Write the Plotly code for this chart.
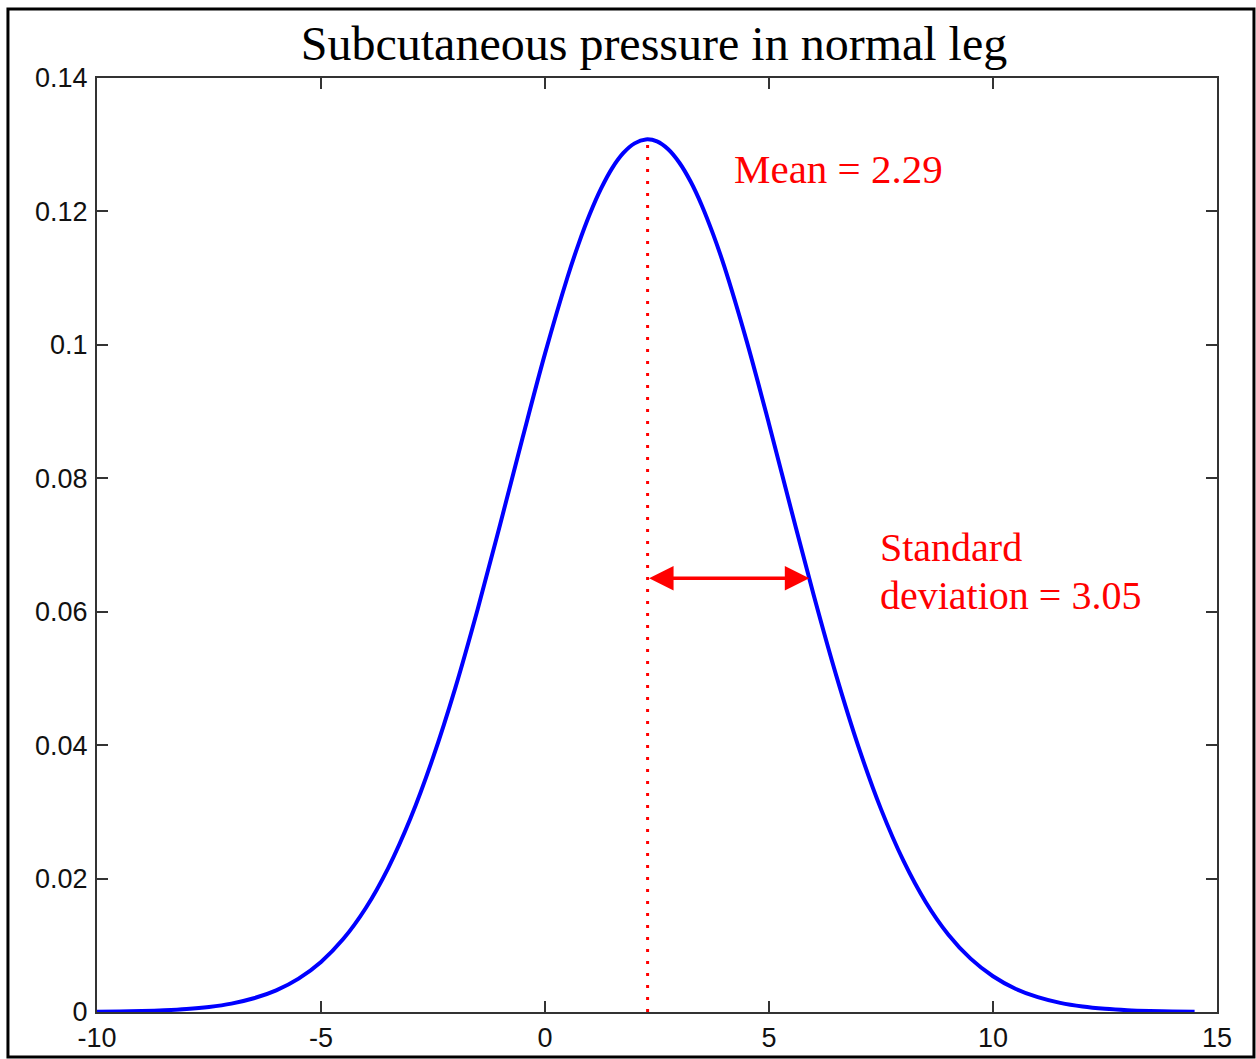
import plotly.graph_objects as go

# Normal density of subcutaneous pressure in a normal leg
x_vals = [-10.0, -9.5, -9.0, -8.5, -8.0, -7.5, -7.0, -6.5, -6.0, -5.5,
          -5.0, -4.5, -4.0, -3.5, -3.0, -2.5, -2.0, -1.5, -1.0, -0.5,
          0.0, 0.5, 0.75, 1.0, 1.25, 1.5, 1.75, 2.0, 2.25, 2.5, 2.75, 3.0,
          3.25, 3.5, 3.75, 4.0, 4.5,
          5.0, 5.5, 6.0, 6.5, 7.0, 7.5, 8.0, 8.5, 9.0, 9.5,
          10.0, 10.5, 11.0, 11.5, 12.0, 12.5, 13.0, 13.5, 14.0, 14.5]
density = [0.00004, 0.00008, 0.00014, 0.00025, 0.00044, 0.00076, 0.00126, 0.00206, 0.00325, 0.00501,
           0.00751, 0.01097, 0.01559, 0.02158, 0.02907, 0.03812, 0.04862, 0.06044, 0.07311, 0.08608,
           0.09868, 0.11010, 0.11514, 0.11960, 0.12341, 0.12650, 0.12877, 0.13020, 0.13079, 0.13050,
           0.12932, 0.12730, 0.12448, 0.12090, 0.11663, 0.11180, 0.10060,
           0.08815, 0.07517, 0.06242, 0.05045, 0.03970, 0.03041, 0.02268, 0.01646, 0.01163, 0.00800,
           0.00536, 0.00349, 0.00222, 0.00137, 0.00082, 0.00048, 0.00027, 0.00015, 0.00008, 0.00004]

mean_value = 2.29
std_value = 3.05
peak_density = 0.1308
arrow_y = 0.065
arrow_x_end = 5.9

x_ticks = [-10, -5, 0, 5, 10, 15]
x_tick_text = ["-10", "-5", "0", "5", "10", "15"]
y_ticks = [0, 0.02, 0.04, 0.06, 0.08, 0.1, 0.12, 0.14]
y_tick_text = ["0", "0.02", "0.04", "0.06", "0.08", "0.1", "0.12", "0.14"]

serif = "Liberation Serif, Times New Roman, serif"
sans = "Liberation Sans, Arial, sans-serif"
red = "#FF0000"

fig = go.Figure()

# mean marker: dotted vertical line from the axis up to the peak
fig.add_trace(go.Scatter(
    x=[mean_value, mean_value], y=[0, peak_density],
    mode="lines", line=dict(color=red, width=3, dash="3px,9px"),
    hoverinfo="skip", showlegend=False,
))

fig.add_trace(go.Scatter(
    x=x_vals, y=density, mode="lines",
    line=dict(color="#0000FF", width=4, shape="spline", smoothing=1.0),
    showlegend=False,
))

axis_common = dict(
    showgrid=False, zeroline=False, automargin=False,
    showline=True, linecolor="#333333", linewidth=2, mirror="ticks",
    ticks="inside", ticklen=11, tickwidth=2, tickcolor="#333333",
    tickfont=dict(family=sans, size=27, color="#111111"),
)

fig.update_xaxes(range=[-10, 15], tickvals=x_ticks, ticktext=x_tick_text,
                 ticklabelstandoff=1, **axis_common)
fig.update_yaxes(range=[0, 0.14], tickvals=y_ticks, ticktext=y_tick_text,
                 ticklabelstandoff=2, **axis_common)

annotations = [
    # double-headed arrow spanning one standard deviation
    dict(x=arrow_x_end, y=arrow_y, ax=mean_value, ay=arrow_y,
         xref="x", yref="y", axref="x", ayref="y",
         text="", showarrow=True, arrowhead=2, startarrowhead=2,
         arrowside="end+start", arrowsize=1.4, arrowwidth=3.5,
         arrowcolor=red, standoff=0, startstandoff=0),
    dict(x=4.18, y=0.1263, xref="x", yref="y", text=f"Mean = {mean_value}",
         showarrow=False, xanchor="left", yanchor="middle",
         font=dict(family=serif, size=41, color=red)),
    dict(x=7.43, y=0.0696, xref="x", yref="y", text="Standard",
         showarrow=False, xanchor="left", yanchor="middle",
         font=dict(family=serif, size=40, color=red)),
    dict(x=7.43, y=0.0624, xref="x", yref="y", text=f"deviation = {std_value}",
         showarrow=False, xanchor="left", yanchor="middle",
         font=dict(family=serif, size=40, color=red)),
]

fig.update_layout(
    width=1256, height=1059,
    margin=dict(l=97, r=39, t=78, b=47),
    paper_bgcolor="white", plot_bgcolor="white",
    title=dict(text="Subcutaneous pressure in normal leg",
               x=(654 / 1256), xanchor="center",
               y=1 - 43 / 1059, yanchor="middle",
               font=dict(family=serif, size=48, color="#000000")),
    annotations=annotations,
    shapes=[dict(type="rect", xref="paper", yref="paper",
                 x0=-0.0795, x1=1.033, y0=-0.0482, y1=1.0739,
                 line=dict(color="#000000", width=3), layer="above")],
)

fig.write_html("out.html")
